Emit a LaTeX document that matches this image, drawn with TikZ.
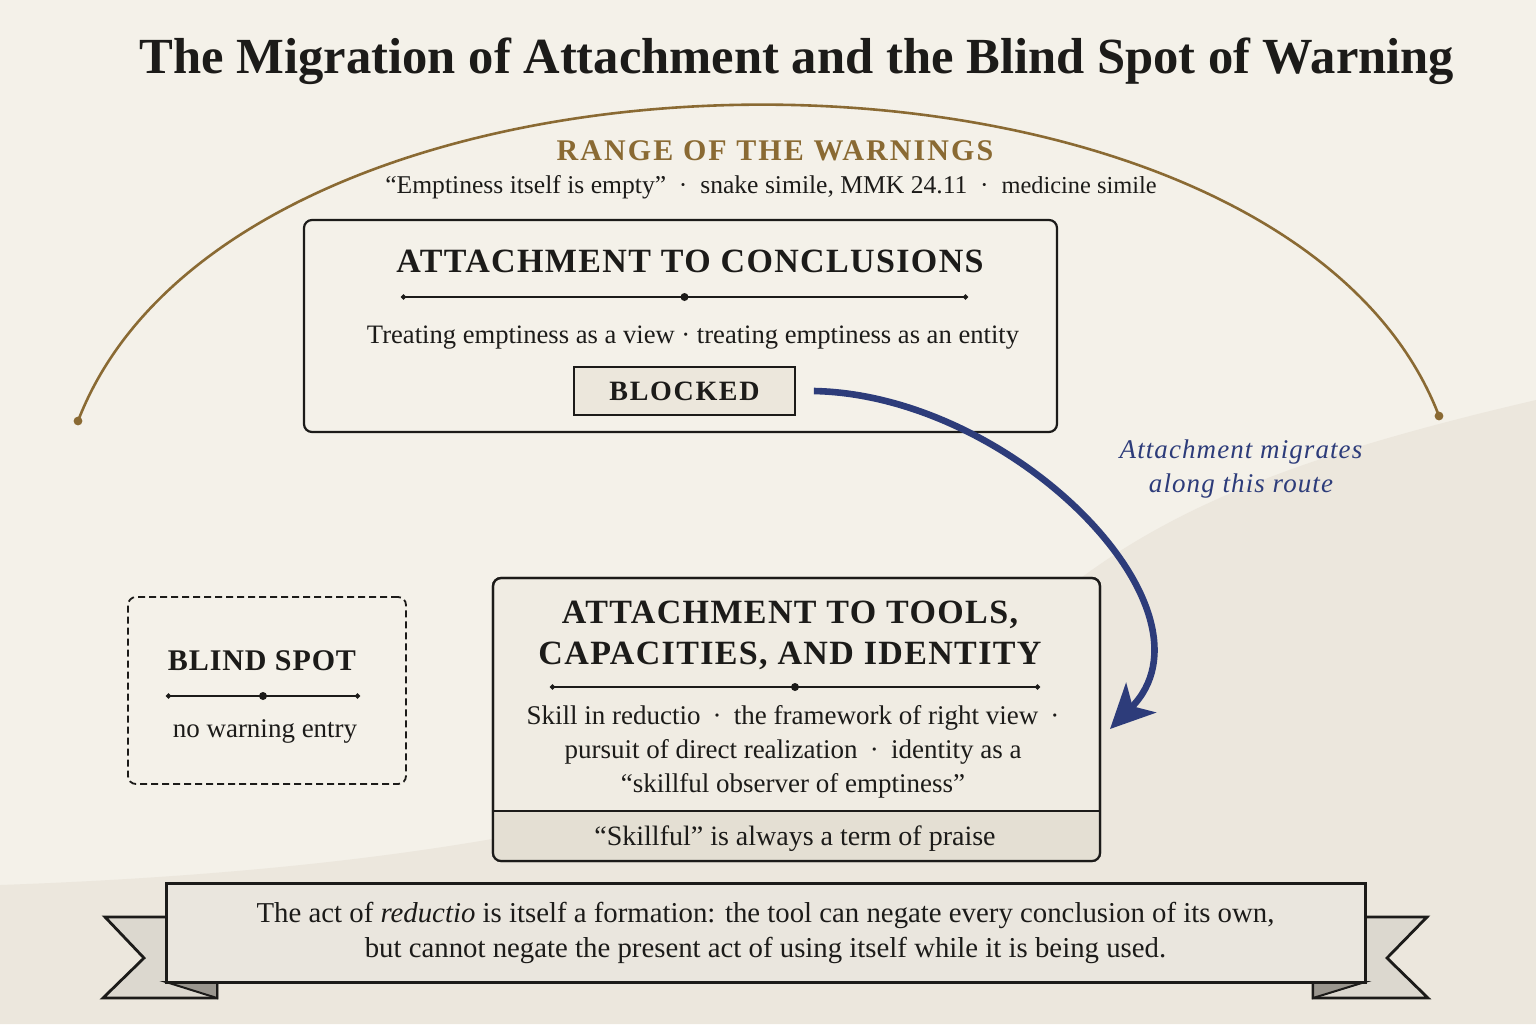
\documentclass[tikz,border=0pt]{standalone}
\usepackage{fontspec}
\setmainfont{Liberation Serif}
\usetikzlibrary{positioning}
\usetikzlibrary{arrows.meta}
\usetikzlibrary{calc}
\definecolor{paper}{HTML}{F4F1E9}
\definecolor{paperdark}{HTML}{ECE7DD}
\definecolor{ink}{HTML}{1C1B19}
\definecolor{warnbrown}{HTML}{8A6A33}
\definecolor{routenavy}{HTML}{2D3C7A}
\definecolor{blockfill}{HTML}{ECE7DC}
\definecolor{toolfill}{HTML}{F0ECE3}
\definecolor{bandfill}{HTML}{E4DFD3}
\definecolor{ribbonfill}{HTML}{EAE6DE}
\definecolor{tailfill}{HTML}{DCD8CF}
\definecolor{foldfill}{HTML}{9A968E}

\begin{document}
\begin{tikzpicture}[x=0.5pt, y=-0.5pt, text=ink, font=\fontsize{13}{16}\selectfont]
    \tikzstyle{panel}=[draw=ink, line width=1.1pt, rounded corners=4pt, inner sep=0pt]
    \tikzstyle{caps}=[font=\fontsize{17}{20.5}\selectfont\bfseries\addfontfeature{LetterSpace=4}]
    \tikzstyle{body}=[font=\fontsize{13.5}{17}\selectfont, align=center]
    \tikzstyle{divider}=[draw=ink, line width=0.7pt, {Circle[length=2.5pt]}-{Circle[length=2.5pt]}]
    \tikzstyle{route}=[draw=routenavy, line width=3.3pt, -{Stealth[length=22pt, width=21pt, inset=6pt]}]

    % paper
    \fill[paper] (0,0) rectangle (1536,1024);
    \fill[paperdark] (1536,400) .. controls (1300,455) and (1150,510) .. (1030,620)
        .. controls (830,810) and (420,870) .. (0,885) -- (0,1024) -- (1536,1024) -- cycle;
    \useasboundingbox (0,0) rectangle (1536,1024);

    \node[anchor=base, font=\fontsize{25.3}{29}\selectfont\bfseries] (title) at (797,73)
        {The Migration of Attachment and the Blind Spot of Warning};

    % range of the warnings
    \coordinate (arcL) at (78,421);
    \coordinate (arcR) at (1439,416);
    \draw[warnbrown, line width=1.3pt] (arcL) .. controls (240,0) and (1280,0) .. (arcR);
    \fill[warnbrown] (arcL) circle (2.2pt) (arcR) circle (2.2pt);
    \node[anchor=base, text=warnbrown, font=\fontsize{15}{18}\selectfont\bfseries\addfontfeature{LetterSpace=7}] (range) at (775,160)
        {RANGE OF THE WARNINGS};
    \node[anchor=base, font=\fontsize{12.8}{15}\selectfont] (similes) at (771,193)
        {``Emptiness itself is empty''\hspace{0.5em}·\hspace{0.5em}snake simile, MMK 24.11\hspace{0.5em}·\hspace{0.5em}{\fontsize{12.2}{15}\selectfont medicine simile}};

    % attachment to conclusions
    \node[panel, minimum width=376.5pt, minimum height=106pt] (conc) at (680.5,326) {};
    \node[caps, anchor=base] (concT) at (690,272) {ATTACHMENT TO CONCLUSIONS};
    \node[body, anchor=base, font=\fontsize{13.3}{17}\selectfont] (concB) at (693,343)
        {Treating emptiness as a view · treating emptiness as an entity};
    \node[draw=ink, fill=blockfill, line width=0.9pt, minimum width=110.5pt, minimum height=24pt,
        font=\fontsize{14}{16}\selectfont\bfseries\addfontfeature{LetterSpace=6}] (blocked) at (684.5,391) {BLOCKED};

    % blind spot
    \node[panel, dash pattern=on 3.5pt off 2pt, line width=0.9pt, minimum width=139pt, minimum height=93.5pt] (blind) at (267,690.5) {};
    \node[font=\fontsize{15}{18}\selectfont\bfseries\addfontfeature{LetterSpace=3}, anchor=base] (blindT) at (262,670) {BLIND SPOT};
    \node[body, anchor=base] (blindB) at (265,737) {no warning entry};

    % attachment to tools
    \node[panel, fill=toolfill, minimum width=303.5pt, minimum height=141.5pt] (tools) at (796.5,719.5) {};
    \begin{scope}
        \clip[rounded corners=4pt] (tools.south west) rectangle (tools.north east);
        \fill[bandfill] (493,811) rectangle (1100,861);
    \end{scope}
    \draw[ink, line width=0.9pt] (493,811) -- (1100,811);
    \node[panel, fill=none, minimum width=303.5pt, minimum height=141.5pt] at (tools) {};
    \node[caps, align=center] (toolsT) at (790,635) {ATTACHMENT TO TOOLS,\\CAPACITIES, AND IDENTITY};
    \node[body] (toolsB) at (793,752)
        {Skill in reductio\hspace{0.45em}·\hspace{0.45em}the framework of right view\hspace{0.45em}·\\
         pursuit of direct realization\hspace{0.45em}·\hspace{0.45em}identity as a\\
         ``skillful observer of emptiness''};
    \node[body, anchor=base, font=\fontsize{14}{17}\selectfont] (praise) at (795,845) {``Skillful'' is always a term of praise};

    % dividers
    \foreach \l/\r/\y in {401/968/297, 166/360/696, 550/1040/687}{
        \draw[divider] (\l,\y) -- (\r,\y);
        \fill[ink] ({(\l+\r)/2},\y) circle (2pt);
    }

    % route of the migration
    \coordinate (arrive) at (1110,729);
    \draw[route] ([xshift=9pt]blocked.east) .. controls (1015,395) and (1226,612) .. (arrive);
    \node[text=routenavy, align=center, font=\fontsize{13.5}{17}\selectfont\itshape\addfontfeature{LetterSpace=4}] (migr) at (1241,469)
        {Attachment migrates\\along this route};

    % banner
    \filldraw[fill=tailfill, draw=ink, line width=1.4pt, line join=miter]
        (105,917) -- (217,917) -- (217,998) -- (103,998) -- (144,958) -- cycle;
    \filldraw[fill=tailfill, draw=ink, line width=1.4pt, line join=miter]
        (1427,917) -- (1313,917) -- (1313,998) -- (1428,998) -- (1387,958) -- cycle;
    \filldraw[fill=foldfill, draw=ink, line width=1pt] (166,982) -- (217,982) -- (217,998) -- cycle;
    \filldraw[fill=foldfill, draw=ink, line width=1pt] (1365,982) -- (1313,982) -- (1313,998) -- cycle;
    \node[draw=ink, fill=ribbonfill, line width=1.5pt, minimum width=599.5pt, minimum height=49.5pt,
        align=center, font=\fontsize{14.4}{17.5}\selectfont] (banner) at (765.5,932.5)
        {The act of \textit{reductio} is itself a formation: the tool can negate every conclusion of its own,\\
         but cannot negate the present act of using itself while it is being used.};
\end{tikzpicture}
\end{document}
